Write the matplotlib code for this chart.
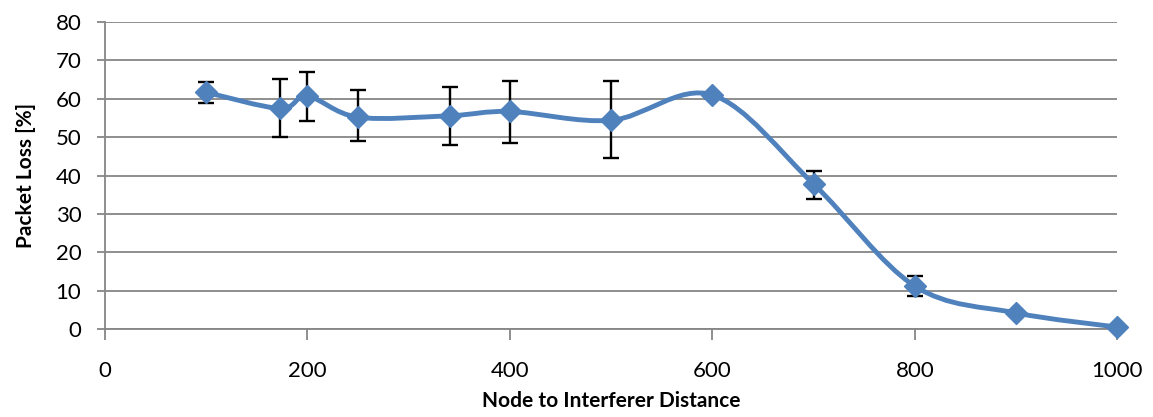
import numpy as np
import matplotlib.pyplot as plt
from matplotlib.path import Path
from matplotlib.patches import PathPatch

plt.rcParams['font.family'] = ['Lato', 'DejaVu Sans']

# 数据
distance = [100, 173, 200, 250, 341, 400, 500, 600, 700, 800, 900, 1000]
loss = [61.7, 57.5, 60.7, 55.2, 55.6, 56.7, 54.4, 61.0, 37.8, 11.2, 4.2, 0.5]
err_hi = [64.3, 65.1, 67.0, 62.2, 63.2, 64.7, 64.6, 61.6, 41.3, 13.7, 4.6, 0.7]
err_lo = [58.9, 50.1, 54.3, 49.0, 48.0, 48.6, 44.7, 60.2, 34.0, 8.7, 3.8, 0.3]

blue = '#4F81BD'
grey = '#868686'

fig = plt.figure(figsize=(11.53, 4.17), dpi=100)
ax = fig.add_axes([0.091, 0.211, 0.878, 0.736])

# Excel 平滑曲线 (Catmull-Rom -> Bezier)
x = np.array(distance, dtype=float)
y = np.array(loss, dtype=float)
verts = [(x[0], y[0])]
codes = [Path.MOVETO]
n = len(x)
for i in range(n - 1):
    p0 = (x[max(i - 1, 0)], y[max(i - 1, 0)])
    p1 = (x[i], y[i])
    p2 = (x[i + 1], y[i + 1])
    p3 = (x[min(i + 2, n - 1)], y[min(i + 2, n - 1)])
    c1 = (p1[0] + (p2[0] - p0[0]) / 6, p1[1] + (p2[1] - p0[1]) / 6)
    c2 = (p2[0] - (p3[0] - p1[0]) / 6, p2[1] - (p3[1] - p1[1]) / 6)
    verts += [c1, c2, p2]
    codes += [Path.CURVE4] * 3
ax.add_patch(PathPatch(Path(verts, codes), fill=False, edgecolor=blue, lw=3.5,
                       capstyle='round', joinstyle='round', zorder=3, clip_on=False))

yerr = [np.array(loss) - np.array(err_lo), np.array(err_hi) - np.array(loss)]
ax.errorbar(distance, loss, yerr=yerr, fmt='none', ecolor='black', elinewidth=1.7,
            capsize=5.5, capthick=1.7, zorder=4)
ax.plot(distance, loss, linestyle='none', marker='D', markersize=11,
        color=blue, zorder=5, clip_on=False)

ax.set_xlim(0, 1000)
ax.set_ylim(0, 80)
ax.set_xticks(range(0, 1001, 200))
ax.set_yticks(range(0, 81, 10))
ax.grid(axis='y', color=grey, lw=1.3)
ax.set_axisbelow(True)
for s in ['top', 'right']:
    ax.spines[s].set_visible(False)
for s in ['left', 'bottom']:
    ax.spines[s].set_color(grey)
    ax.spines[s].set_linewidth(1.3)
ax.tick_params(axis='both', direction='out', color=grey, length=6, width=1.3,
               labelsize=16)
ax.tick_params(axis='x', length=8, pad=15)
ax.tick_params(axis='y', pad=11)
ax.set_xlabel('Node to Interferer Distance', fontsize=15, fontweight='bold', labelpad=7)
ax.set_ylabel('Packet Loss [%]', fontsize=15, fontweight='bold', labelpad=14)

fig.savefig('out.png', dpi=100)
